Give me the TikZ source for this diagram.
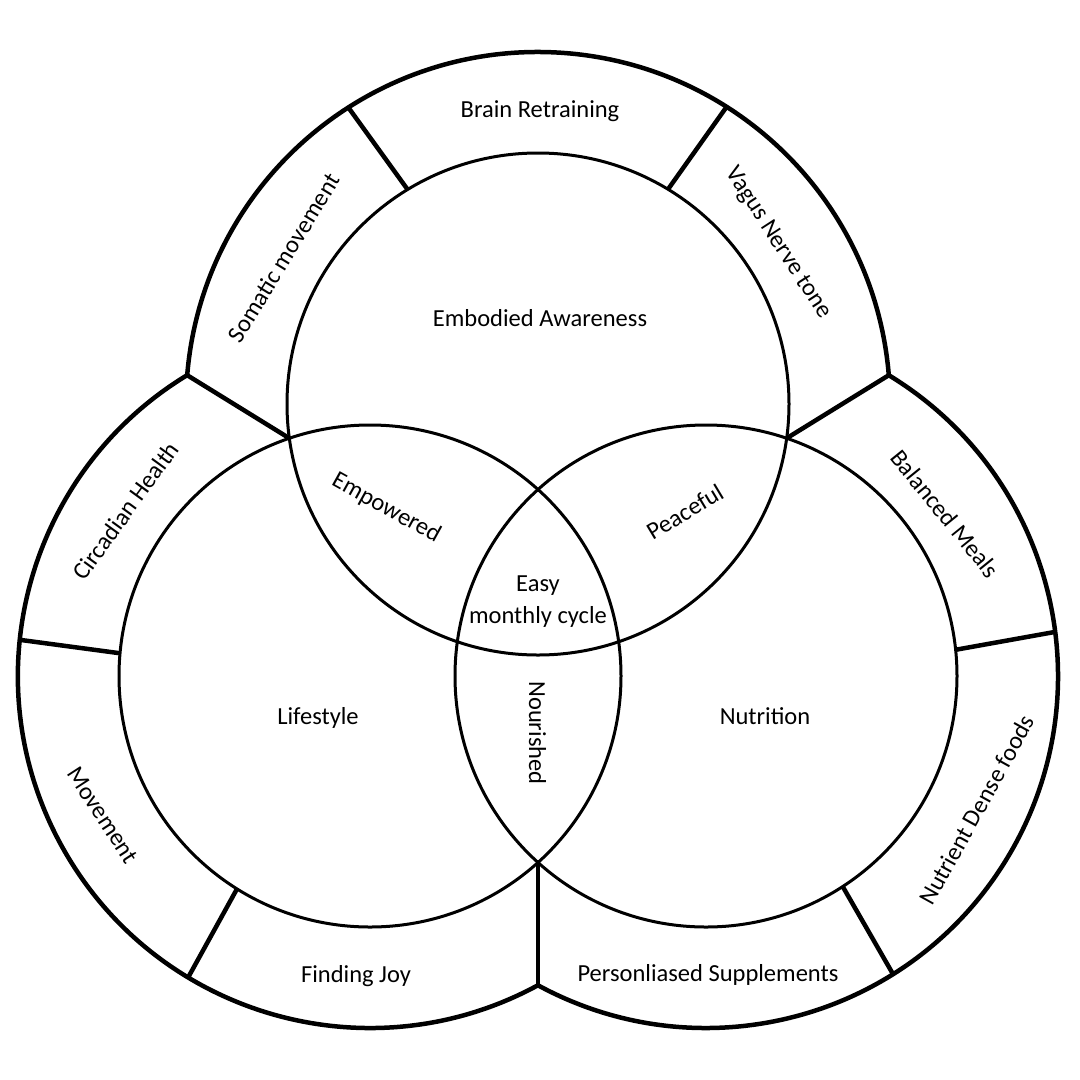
\documentclass[tikz,border=0pt]{standalone}
\usepackage{fontspec}
\setmainfont{Carlito}
\usetikzlibrary{calc}
\begin{document}
\begin{tikzpicture}[x=1pt,y=-1pt,
  outerline/.style={line width=4.5pt, line join=round},
  innerline/.style={line width=3pt},
  lbl/.style={inner sep=0pt, text height=16pt, text depth=0pt, font=\fontsize{24.5}{30}\selectfont}]
\fill[white] (0,0) rectangle (1080,1080);
\useasboundingbox (0,0) rectangle (1080,1080);
% centres
\coordinate (T) at (538,404);
\coordinate (L) at (370,676);
\coordinate (R) at (706,676);
% junctions
\coordinate (tlo) at (187.2,375.2);
\coordinate (tli) at (289.4,438.3);
\coordinate (tro) at (888.8,375.2);
\coordinate (tri) at (786.6,438.3);
\coordinate (bo) at (538,985.3);
\coordinate (bi) at (538,862.5);
% separators
\coordinate (s1i) at ($(T)+(238.7:251)$);
\coordinate (s1o) at ($(T)+(237.4:352)$);
\coordinate (s2i) at ($(T)+(-58.8:251)$);
\coordinate (s2o) at ($(T)+(-57.6:352)$);
\coordinate (s3i) at ($(L)+(185.2:251)$);
\coordinate (s3o) at ($(L)+(185.9:352)$);
\coordinate (s4i) at ($(L)+(122.0:251)$);
\coordinate (s4o) at ($(L)+(121.1:352)$);
\coordinate (s5i) at ($(R)+(-6.0:251)$);
\coordinate (s5o) at ($(R)+(-7.2:352)$);
\coordinate (s6i) at ($(R)+(57.0:251)$);
\coordinate (s6o) at ($(R)+(57.9:352)$);
% outer boundary
\draw[outerline] (tlo) arc[start angle=184.69, end angle=355.31, radius=352]
  arc[start angle=-58.71, end angle=118.52, radius=352]
  arc[start angle=61.48, end angle=238.71, radius=352] -- cycle;
% inner circles
\draw[innerline] (T) circle[radius=251];
\draw[innerline] (L) circle[radius=251];
\draw[innerline] (R) circle[radius=251];
% separators
\draw[outerline] (tlo) -- (tli);
\draw[outerline] (tro) -- (tri);
\draw[outerline] (bi) -- (bo);
\draw[outerline] (s1i) -- (s1o);
\draw[outerline] (s2i) -- (s2o);
\draw[outerline] (s3i) -- (s3o);
\draw[outerline] (s4i) -- (s4o);
\draw[outerline] (s5i) -- (s5o);
\draw[outerline] (s6i) -- (s6o);
% labels
\node[lbl] (brain) at (540,109) {Brain Retraining};
\node[lbl] (emb) at (540,318) {Embodied Awareness};
\node[lbl] (life) at (318,716) {Lifestyle};
\node[lbl] (nut) at (765,716) {Nutrition};
\node[lbl] (joy) at (356,974.5) {Finding Joy};
\node[lbl] (supp) at (708,973) {Personliased Supplements};
\node[lbl] (easy1) at (538,583.7) {Easy};
\node[lbl] (easy2) at (538,615) {monthly cycle};
\node[lbl, rotate=58.5] (som) at (284,258) {Somatic movement};
\node[lbl, rotate=-57] (vag) at (780,242) {Vagus Nerve tone};
\node[lbl, rotate=54] (circ) at (126,511) {Circadian Health};
\node[lbl, rotate=-51] (bal) at (945,514) {Balanced Meals};
\node[lbl, rotate=-57] (mov) at (103,815) {Movement};
\node[lbl, rotate=61] (nd) at (977,810) {Nutrient Dense foods};
\node[lbl, rotate=-29] (emp) at (387,507) {Empowered};
\node[lbl, rotate=31] (pea) at (685,512) {Peaceful};
\node[lbl, rotate=-90] (nour) at (537,733) {Nourished};
\end{tikzpicture}
\end{document}
